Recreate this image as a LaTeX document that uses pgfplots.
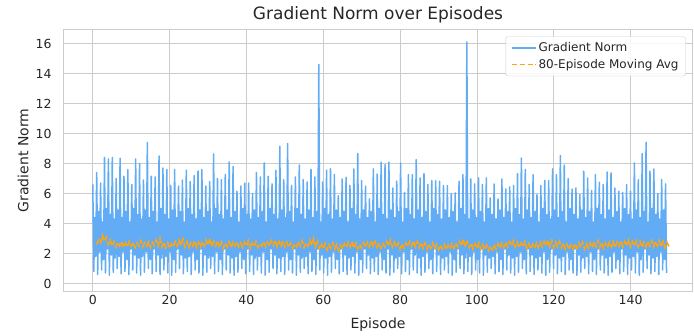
\documentclass[border=0pt]{standalone}
\usepackage{fontspec}
\setmainfont{DejaVu Sans}
\usepackage{pgfplots}
\usepackage{pgfplotstable}
\pgfplotsset{compat=1.18}
\definecolor{gnblue}{RGB}{97,172,245}
\definecolor{maorange}{RGB}{252,165,20}
\definecolor{gridgray}{RGB}{204,204,204}
\definecolor{txt}{RGB}{38,38,38}
% gradient norm: per episode peak, low, mid, low
\pgfplotstableread[header=false,row sep=\\]{
6.6\\0.8\\4.4\\1.8\\
7.4\\0.6\\4.8\\2.1\\
6.7\\0.9\\4.1\\1.6\\
8.4\\0.7\\5.0\\2.3\\
8.3\\0.55\\4.6\\1.9\\
8.4\\0.75\\4.3\\1.7\\
7.0\\1.0\\4.9\\1.8\\
8.35\\0.65\\4.4\\2.1\\
7.15\\0.8\\4.8\\1.6\\
7.6\\0.6\\4.1\\2.3\\
6.6\\0.9\\5.0\\1.9\\
8.3\\0.7\\4.6\\1.7\\
8.0\\0.55\\4.3\\1.8\\
6.9\\0.75\\4.9\\2.1\\
9.4\\1.0\\4.4\\1.6\\
7.15\\0.65\\4.8\\2.3\\
7.1\\0.8\\4.1\\1.9\\
8.5\\0.6\\5.0\\1.7\\
7.7\\0.9\\4.6\\1.8\\
7.6\\0.7\\4.3\\2.1\\
6.55\\0.55\\4.9\\1.6\\
7.6\\0.75\\4.4\\2.3\\
6.5\\1.0\\4.8\\1.9\\
6.9\\0.65\\4.1\\1.7\\
7.55\\0.8\\5.0\\1.8\\
6.8\\0.6\\4.6\\2.1\\
7.2\\0.9\\4.3\\1.6\\
7.5\\0.7\\4.9\\2.3\\
7.6\\0.55\\4.4\\1.9\\
6.5\\0.75\\4.8\\1.7\\
6.8\\1.0\\4.1\\1.8\\
8.64\\0.65\\5.0\\2.1\\
7.0\\0.8\\4.6\\1.6\\
6.93\\0.6\\4.3\\2.3\\
7.27\\0.9\\4.9\\1.9\\
8.1\\0.7\\4.4\\1.7\\
7.8\\0.55\\4.8\\1.8\\
6.15\\0.75\\4.1\\2.1\\
6.5\\1.0\\5.0\\1.6\\
6.7\\0.65\\4.6\\2.3\\
6.7\\0.8\\4.3\\1.9\\
6.0\\0.6\\4.9\\1.7\\
7.4\\0.9\\4.4\\1.8\\
7.1\\0.7\\4.8\\2.1\\
8.04\\0.55\\4.1\\1.6\\
7.15\\0.75\\5.0\\2.3\\
6.64\\1.0\\4.6\\1.9\\
7.55\\0.65\\4.3\\1.7\\
9.15\\0.8\\4.9\\1.8\\
6.93\\0.6\\4.4\\2.1\\
9.33\\0.9\\4.8\\1.6\\
6.53\\0.7\\4.1\\2.3\\
7.1\\0.55\\5.0\\1.9\\
7.9\\0.75\\4.6\\1.7\\
6.93\\1.0\\4.3\\1.8\\
6.77\\0.65\\4.9\\2.1\\
7.6\\0.8\\4.4\\1.6\\
7.1\\0.6\\4.8\\2.3\\
14.6\\0.9\\4.1\\1.9\\
6.77\\0.7\\5.0\\1.7\\
7.55\\0.55\\4.6\\1.8\\
7.66\\0.75\\4.3\\2.1\\
7.26\\1.0\\4.9\\1.6\\
5.86\\0.65\\4.4\\2.3\\
6.97\\0.8\\4.8\\1.9\\
7.08\\0.6\\4.1\\1.7\\
6.55\\0.9\\5.0\\1.8\\
7.64\\0.7\\4.6\\2.1\\
8.66\\0.55\\4.3\\1.6\\
6.86\\0.75\\4.9\\2.3\\
6.49\\1.0\\4.4\\1.9\\
5.64\\0.65\\4.8\\1.7\\
7.64\\0.8\\4.1\\1.8\\
7.3\\0.6\\5.0\\2.1\\
8.09\\0.9\\4.6\\1.6\\
7.93\\0.7\\4.3\\2.3\\
8.09\\0.55\\4.9\\1.9\\
6.37\\0.75\\4.4\\1.7\\
6.82\\1.0\\4.8\\1.8\\
8.04\\0.65\\4.1\\2.1\\
6.08\\0.8\\5.0\\1.6\\
7.26\\0.6\\4.6\\2.3\\
7.26\\0.9\\4.3\\1.9\\
8.26\\0.7\\4.9\\1.7\\
7.04\\0.55\\4.4\\1.8\\
7.33\\0.75\\4.8\\2.1\\
6.6\\1.0\\4.1\\1.6\\
6.86\\0.65\\5.0\\2.3\\
6.86\\0.8\\4.6\\1.9\\
6.82\\0.6\\4.3\\1.7\\
6.53\\0.9\\4.9\\1.8\\
6.53\\0.7\\4.4\\2.1\\
6.0\\0.55\\4.8\\1.6\\
6.04\\0.75\\4.1\\2.3\\
6.82\\1.0\\5.0\\1.9\\
7.26\\0.65\\4.6\\1.7\\
16.1\\0.8\\4.3\\1.8\\
6.97\\0.6\\4.9\\2.1\\
6.64\\0.9\\4.4\\1.6\\
7.04\\0.7\\4.8\\2.3\\
6.6\\0.55\\4.1\\1.9\\
7.04\\0.75\\5.0\\1.7\\
5.71\\1.0\\4.6\\1.8\\
6.64\\0.65\\4.3\\2.1\\
5.64\\0.8\\4.9\\1.6\\
6.97\\0.6\\4.4\\2.3\\
6.31\\0.9\\4.8\\1.9\\
6.44\\0.7\\4.1\\1.7\\
6.53\\0.55\\5.0\\1.8\\
7.33\\0.75\\4.6\\2.1\\
8.37\\1.0\\4.3\\1.6\\
7.6\\0.65\\4.9\\2.3\\
6.6\\0.8\\4.4\\1.9\\
7.26\\0.6\\4.8\\1.7\\
5.93\\0.9\\4.1\\1.8\\
6.53\\0.7\\5.0\\2.1\\
6.88\\0.55\\4.6\\1.6\\
6.86\\0.75\\4.3\\2.3\\
7.64\\1.0\\4.9\\1.9\\
7.26\\0.65\\4.4\\1.7\\
8.53\\0.8\\4.8\\1.8\\
7.89\\0.6\\4.1\\2.1\\
6.99\\0.9\\5.0\\1.6\\
6.3\\0.7\\4.6\\2.3\\
6.37\\0.55\\4.3\\1.9\\
5.93\\0.75\\4.9\\1.7\\
7.49\\1.0\\4.4\\1.8\\
7.04\\0.65\\4.8\\2.1\\
6.2\\0.8\\4.1\\1.6\\
7.26\\0.6\\5.0\\2.3\\
6.75\\0.9\\4.6\\1.9\\
6.6\\0.7\\4.3\\1.7\\
7.44\\0.55\\4.9\\1.8\\
7.37\\0.75\\4.4\\2.1\\
6.37\\1.0\\4.8\\1.6\\
6.15\\0.65\\4.1\\2.3\\
6.08\\0.8\\5.0\\1.9\\
6.6\\0.6\\4.6\\1.7\\
6.15\\0.9\\4.3\\1.8\\
8.04\\0.7\\4.9\\2.1\\
6.93\\0.55\\4.4\\1.6\\
8.66\\0.75\\4.8\\2.3\\
9.42\\1.0\\4.1\\1.9\\
7.49\\0.65\\5.0\\1.7\\
7.64\\0.8\\4.6\\1.8\\
6.0\\0.6\\4.3\\2.1\\
6.93\\0.9\\4.9\\1.6\\
6.64\\0.7\\
}\gradnorm
% 80-episode moving average, every half episode from episode 1
\pgfplotstableread[header=false,row sep=\\]{
2.6\\2.9\\2.7\\3.2\\2.8\\3.1\\2.6\\2.9\\2.5\\2.8\\
2.45\\2.75\\2.5\\2.8\\2.4\\2.7\\2.45\\2.8\\2.5\\2.75\\
2.4\\2.7\\2.5\\2.85\\2.45\\2.7\\2.5\\2.8\\2.4\\2.75\\
2.55\\2.9\\2.5\\3.0\\2.45\\2.75\\2.4\\2.7\\2.35\\2.65\\
2.45\\2.8\\2.5\\2.9\\2.55\\2.95\\2.45\\2.8\\2.4\\2.7\\
2.5\\2.85\\2.4\\2.75\\2.45\\2.8\\2.5\\2.9\\2.55\\3.0\\
2.45\\2.8\\2.5\\2.85\\2.4\\2.75\\2.35\\2.7\\2.45\\2.8\\
2.4\\2.75\\2.5\\2.8\\2.45\\2.7\\2.4\\2.75\\2.5\\2.85\\
2.35\\2.7\\2.45\\2.8\\2.4\\2.65\\2.5\\2.8\\2.45\\2.75\\
2.5\\2.85\\2.55\\2.9\\2.45\\2.8\\2.5\\2.85\\2.45\\2.75\\
2.4\\2.7\\2.35\\2.65\\2.45\\2.8\\2.5\\2.85\\2.4\\2.7\\
2.5\\2.9\\2.55\\3.0\\2.45\\2.8\\2.35\\2.7\\2.3\\2.65\\
2.25\\2.6\\2.35\\2.7\\2.3\\2.6\\2.2\\2.55\\2.3\\2.65\\
2.4\\2.75\\2.45\\2.8\\2.35\\2.7\\2.3\\2.6\\2.35\\2.7\\
2.4\\2.75\\2.45\\2.85\\2.5\\2.8\\2.4\\2.7\\2.35\\2.65\\
2.45\\2.8\\2.5\\2.9\\2.45\\2.75\\2.4\\2.7\\2.3\\2.65\\
2.35\\2.7\\2.45\\2.8\\2.5\\2.85\\2.45\\2.8\\2.4\\2.75\\
2.35\\2.7\\2.3\\2.65\\2.35\\2.7\\2.3\\2.6\\2.25\\2.55\\
2.3\\2.6\\2.25\\2.55\\2.3\\2.65\\2.35\\2.7\\2.45\\2.8\\
2.5\\2.95\\2.45\\2.8\\2.4\\2.7\\2.3\\2.65\\2.35\\2.7\\
2.3\\2.6\\2.25\\2.55\\2.2\\2.5\\2.25\\2.6\\2.3\\2.65\\
2.35\\2.7\\2.4\\2.75\\2.45\\2.8\\2.5\\2.85\\2.45\\2.75\\
2.4\\2.7\\2.45\\2.8\\2.35\\2.65\\2.3\\2.6\\2.35\\2.7\\
2.4\\2.75\\2.45\\2.8\\2.5\\2.9\\2.45\\2.85\\2.4\\2.75\\
2.45\\2.8\\2.4\\2.7\\2.3\\2.6\\2.25\\2.55\\2.3\\2.65\\
2.35\\2.7\\2.4\\2.75\\2.3\\2.65\\2.35\\2.7\\2.4\\2.8\\
2.45\\2.85\\2.4\\2.75\\2.35\\2.7\\2.4\\2.75\\2.45\\2.8\\
2.4\\2.75\\2.5\\2.85\\2.45\\2.8\\2.5\\2.9\\2.45\\2.8\\
2.5\\2.85\\2.45\\2.8\\2.4\\2.75\\2.45\\2.8\\2.5\\2.85\\
2.45\\2.8\\2.5\\2.85\\2.45\\2.8\\2.4\\2.75\\2.45\\
}\movavg
\begin{document}
\begin{tikzpicture}
\begin{axis}[
  width=628pt, height=261pt, scale only axis,
  xmin=-7.5, xmax=156, ymin=-0.5, ymax=16.9,
  xtick={0,20,...,140}, ytick={0,2,...,16},
  grid=major, grid style={gridgray, line width=0.8pt},
  axis line style={gridgray, line width=1pt},
  tick style={draw=none},
  /pgf/number format/assume math mode=true,
  ticklabel style={font=\fontsize{12.5}{14}\selectfont, text=txt},
  yticklabel style={xshift=-9pt},
  xticklabel style={yshift=-1pt},
  title={Gradient Norm over Episodes},
  title style={font=\fontsize{17}{20}\selectfont, text=txt, yshift=-3pt},
  xlabel={Episode}, ylabel={Gradient Norm},
  label style={font=\fontsize{14}{16}\selectfont, text=txt},
  xlabel style={yshift=-6pt},
  ylabel style={yshift=0pt},
  legend style={at={(0.99,0.975)}, anchor=north east, draw=gridgray,
    rounded corners=2pt, fill=white, fill opacity=0.85, text opacity=1,
    font=\fontsize{12}{14}\selectfont, text=txt, row sep=2pt,
    inner xsep=5pt, inner ysep=4pt},
  legend cell align=left,
  legend image code/.code={\draw[#1] (0pt,0pt) -- (24pt,0pt);},
]
\addplot[color=gnblue, draw=gnblue, line width=1.5pt, line join=round]
  table[x expr=\coordindex*0.2536, y index=0] {\gradnorm};
\addlegendentry{Gradient Norm}
\addplot[color=maorange, draw=maorange, line width=1.7pt, dash pattern=on 5.5pt off 2.4pt]
  table[x expr=\coordindex*0.5+1, y index=0] {\movavg};
\addlegendentry{80-Episode Moving Avg}
\end{axis}
\path (-64pt,-44pt) (630pt,291pt);
\end{tikzpicture}
\end{document}
